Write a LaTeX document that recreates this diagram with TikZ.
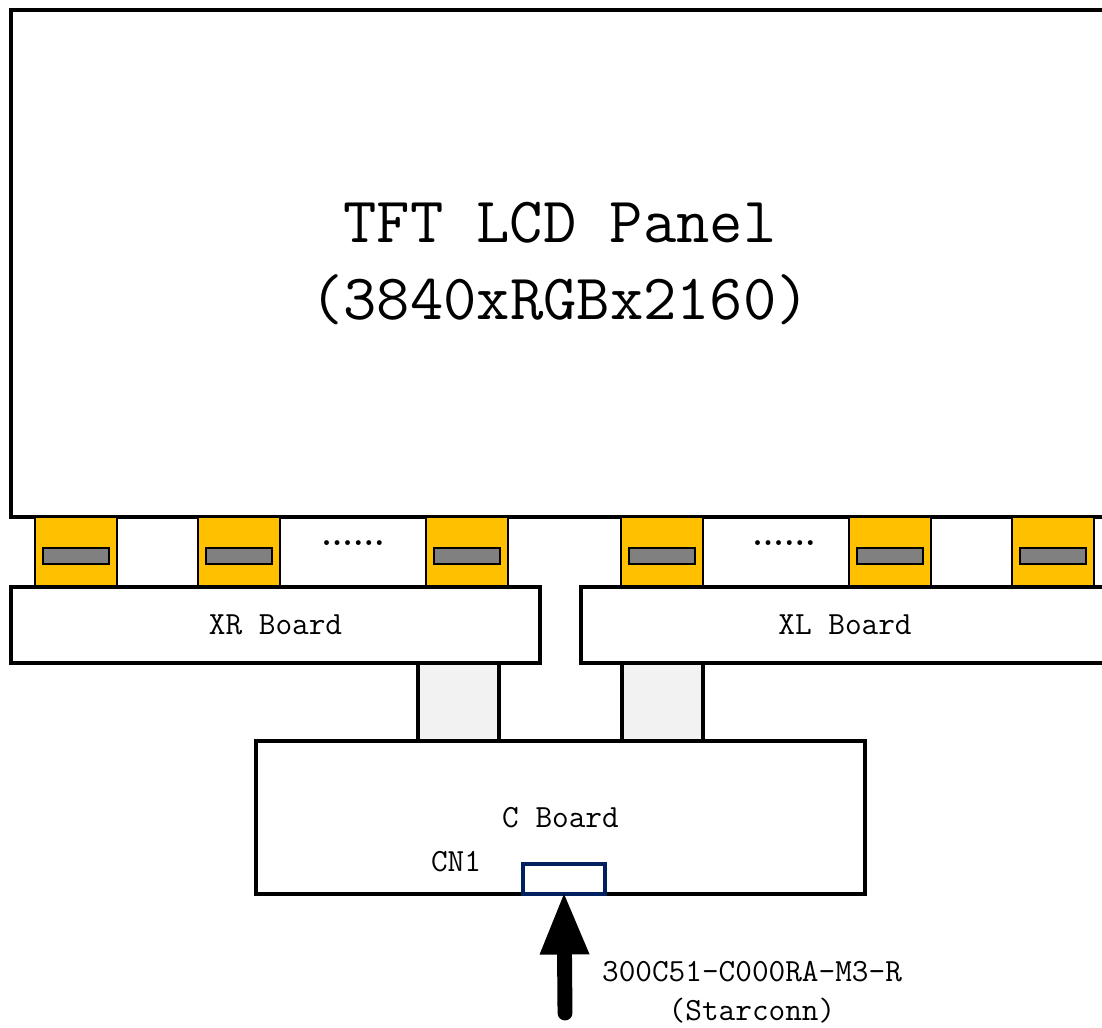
\documentclass[tikz,border=0pt]{standalone}
\usepackage{fontspec}
\usetikzlibrary{arrows.meta}
\definecolor{cofyellow}{HTML}{FFC000}
\definecolor{icgray}{HTML}{808080}
\definecolor{fpcgray}{HTML}{F2F2F2}
\definecolor{cnblue}{HTML}{002060}
\newcommand{\px}{0.025cm}
\begin{document}
\begin{tikzpicture}[x=0.025cm, y=-0.025cm,
  board/.style={draw, line width=2.7pt, fill=white, inner sep=0pt, outer sep=0pt,
    font=\ttfamily\fontsize{23}{27}\selectfont},
  cof/.style={draw, line width=1.5pt, fill=cofyellow, minimum width=82*\px, minimum height=70*\px, inner sep=0pt},
  icbar/.style={draw, line width=1.3pt, fill=icgray, minimum width=66*\px, minimum height=16*\px, inner sep=0pt},
  fpc/.style={draw, line width=2.7pt, fill=fpcgray, minimum width=81*\px, minimum height=78*\px, inner sep=0pt},
  dots/.style={font=\rmfamily\bfseries\fontsize{24}{24}\selectfont},
  lbl/.style={font=\ttfamily\fontsize{23}{27.6}\selectfont, align=center}]
\clip (0,0) rectangle (1102,1027);

% panel
\node[board, minimum width=1098*\px, minimum height=507*\px, align=center,
  font=\ttfamily\fontsize{46}{55}\selectfont] (panel) at (560,263.5) {TFT LCD Panel\\(3840xRGBx2160)};

% source COFs
\foreach \x [count=\i] in {76,239,467,662,890,1053} {
  \node[cof] (cof\i) at (\x,552) {};
  \node[icbar] (ic\i) at (\x,556) {};
}
\node[dots] (dl) at (353,543) {......};
\node[dots] (dr) at (784,543) {......};

% X boards
\node[board, minimum width=529*\px, minimum height=76*\px] (xr) at (275.5,625) {XR Board};
\node[board, minimum width=528*\px, minimum height=76*\px] (xl) at (845,625) {XL Board};

% FPCs
\node[fpc] (fpc1) at (458.5,702) {};
\node[fpc] (fpc2) at (662.5,702) {};

% C board
\node[board, minimum width=609*\px, minimum height=153*\px] (cb) at (560.5,817.5) {C Board};
\node[draw=cnblue, line width=2.5pt, fill=white, minimum width=82*\px, minimum height=30*\px,
  inner sep=0pt, outer sep=0pt] (cn1) at (564,879) {};
\node[lbl] (cn1lbl) at (456,862) {CN1};

% input connector
\coordinate (in) at (565,1013);
\draw[line width=10.6pt, line cap=round, shorten >=-2pt,
  -{Triangle[width=32pt,length=45pt]}] (in) -- (cn1.south);
\node[lbl] (conn) at (752,992) {300C51-C000RA-M3-R\\(Starconn)};
\end{tikzpicture}
\end{document}
